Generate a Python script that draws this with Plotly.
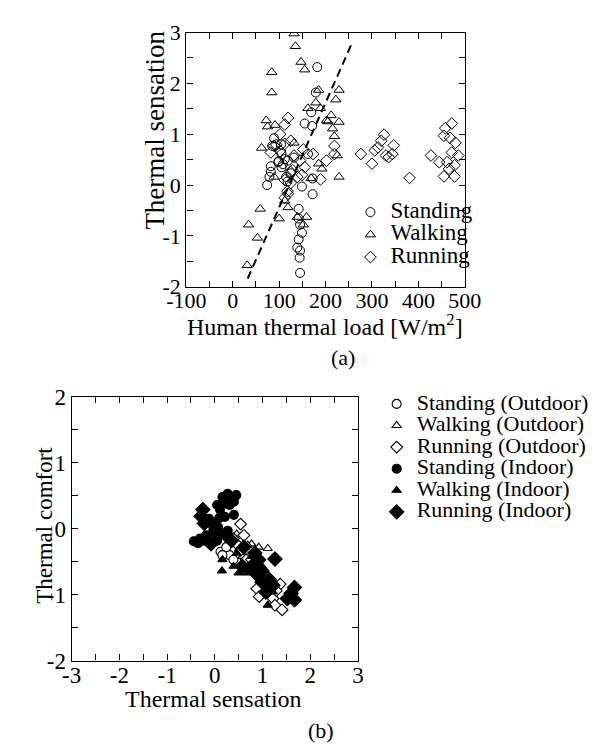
import plotly.graph_objects as go

# The page body has an 8 px margin, so the figure is sized to fit the window exactly
WIN_W, WIN_H = 606, 756
OFF = 8
W, H = WIN_W - 2 * OFF, WIN_H - 2 * OFF
FONT = "'Liberation Serif', 'Times New Roman', Times, serif"

# ---------------- data (a) ----------------
stand_x = [182, 179, 169, 171, 155, 89, 85, 104, 105, 112, 99, 82, 82, 79, 74, 105, 115, 125, 149, 172,
           162, 172, 142, 142, 145, 149, 142, 139, 145, 144, 145, 119, 132, 98, 108, 118]
stand_y = [2.32, 1.82, 1.43, 1.16, 1.21, 0.92, 0.77, 0.80, 0.61, 0.51, 0.47, 0.37, 0.26, 0.16, 0.0, 0.35, 0.16,
           0.23, -0.03, 0.13, 0.61, -0.18, -0.47, -0.66, -0.78, -0.94, -1.07, -1.23, -1.29, -1.43, -1.73, 0.48,
           0.54, 0.45, 0.41, 0.07]
walk_x = [132, 135, 147, 155, 84, 84, 185, 229, 222, 179, 162, 189, 72, 75, 91, 202, 212, 229, 215, 219,
          62, 132, 225, 185, 192, 229, 89, 112, 119, 59, 100, 139, 159, 152, 34, 53, 31, 169, 205]
walk_y = [2.98, 2.73, 2.42, 2.27, 2.22, 1.82, 1.87, 1.87, 1.68, 1.62, 1.51, 1.51, 1.27, 1.15, 1.18, 1.27,
          1.37, 1.24, 1.11, 0.96, 0.73, 0.83, 0.58, 0.42, 0.32, 0.16, 0.16, -0.31, -0.44, -0.47, -0.66, -0.63,
          -0.63, -0.78, -0.78, -1.04, -1.58, 0.13, 1.25]
run_x = [119, 112, 102, 89, 112, 102, 125, 152, 173, 132, 145, 155, 129, 139, 112, 125, 149, 119, 189, 202,
         219, 219, 82, 94, 124, 112, 118,
         276, 300, 313, 306, 326, 320, 347, 344, 330, 336, 381, 427, 445, 472, 458, 455, 468, 480, 472, 486,
         462, 478, 466, 455, 478]
run_y = [1.32, 1.19, 1.0, 0.77, 0.81, 0.67, 0.87, 0.70, 0.61, 0.58, 0.48, 0.35, 0.29, 0.16, 0.10, 0.04, 0.20,
         -0.17, 0.11, 0.48, 0.77, 0.61, 0.64, 0.79, 0.26, -0.25, -0.12,
         0.61, 0.42, 0.74, 0.68, 0.99, 0.87, 0.78, 0.61, 0.58, 0.55, 0.14, 0.58, 0.45, 1.21, 1.12, 0.97, 0.93,
         0.83, 0.64, 0.58, 0.45, 0.39, 0.32, 0.17, 0.17]
# regression line (a)
fit_slope = 0.0206
fit_intercept = -2.50
fit_x = [32, 259]

# tick labels
a_xticks = [-100, 0, 100, 200, 300, 400, 500]
a_yticks = [-2, -1, 0, 1, 2, 3]
b_xticks = [-3, -2, -1, 0, 1, 2, 3]
b_yticks = [-2, -1, 0, 1, 2]

# ---------------- data (b) ----------------
so_x = [0.12, 0.31, 0.39, 0.24, 0.16, 0.54]
so_y = [-0.35, -0.40, -0.47, -0.28, -0.40, -0.33]
wo_x = [1.11, 0.46, 0.77, 0.58, 0.69, 0.92]
wo_y = [-0.30, -0.08, -0.23, -0.42, -0.25, -0.28]
ro_x = [0.54, 0.61, 0.46, 0.54, 0.66, 0.88, 0.93, 1.22, 1.37, 1.26, 1.41, 1.29, 0.77, 0.39]
ro_y = [0.07, -0.10, -0.23, -0.33, -0.47, -0.91, -1.03, -1.06, -0.84, -1.16, -1.23, -0.94, -0.47, -0.15]
si_x = [0.45, 0.27, 0.16, 0.35, 0.20, 0.05, 0.31, 0.40, 0.11, 0.40, 0.21, 0.09, -0.12, -0.14, 0.01, 0.07,
        -0.03, -0.18, -0.31, -0.44, -0.35, -0.22, 0.16, 0.05, 0.27]
si_y = [0.51, 0.53, 0.48, 0.43, 0.38, 0.36, 0.36, 0.41, 0.29, 0.21, 0.18, 0.16, 0.15, 0.09, 0.07, 0.02,
        -0.02, -0.10, -0.15, -0.19, -0.22, -0.18, -0.08, -0.18, -0.03]
wi_x = [0.15, 0.16, 0.39, 0.50, 0.69, 1.11, 0.77, 0.99, 0.46, 1.22]
wi_y = [-0.64, -0.47, -0.57, -0.67, -0.67, -1.16, -0.42, -0.57, -0.37, -0.96]
ri_x = [-0.25, -0.29, -0.22, -0.08, 0.01, 0.24, 0.35, 0.61, 0.84, 0.92, 1.26, 0.77, 0.99, 1.14, 1.22, 1.07,
        1.67, 1.60, 1.67, 1.52, 0.58, 0.88, 0.99]
ri_y = [0.29, 0.19, 0.08, -0.23, -0.06, -0.10, -0.18, -0.28, -0.37, -0.47, -0.46, -0.57, -0.64, -0.77, -0.86,
        -0.96, -0.89, -0.98, -1.08, -1.06, -0.57, -0.69, -0.81]

fig = go.Figure()

def lab(t, size):
    return "<span style='font-size:%dpx'>%s</span>" % (size, t)

# (a) traces
for nm, xs, ys, sym, sz in [("Standing", stand_x, stand_y, "circle-open", 9),
                            ("Walking", walk_x, walk_y, "triangle-up-open", 9),
                            ("Running", run_x, run_y, "diamond-open", 9)]:
    fig.add_trace(go.Scatter(x=xs, y=ys, mode="markers", name=lab(nm, 23), xaxis="x", yaxis="y",
                             legend="legend",
                             marker=dict(symbol=sym, size=sz, color="black", line=dict(width=1, color="black"))))

fig.add_trace(go.Scatter(x=fit_x, y=[fit_slope * v + fit_intercept for v in fit_x], mode="lines",
                         xaxis="x", yaxis="y", showlegend=False,
                         line=dict(color="black", width=2, dash="8px,5px")))

# (b) traces
for nm, xs, ys, sym, sz, fill in [
        ("Standing (Outdoor)", so_x, so_y, "circle", 9, "white"),
        ("Walking (Outdoor)", wo_x, wo_y, "triangle-up", 8, "white"),
        ("Running (Outdoor)", ro_x, ro_y, "diamond", 9, "white"),
        ("Standing (Indoor)", si_x, si_y, "circle", 9, "black"),
        ("Walking (Indoor)", wi_x, wi_y, "triangle-up", 8, "black"),
        ("Running (Indoor)", ri_x, ri_y, "diamond", 11, "black")]:
    fig.add_trace(go.Scatter(x=xs, y=ys, mode="markers", name=lab(nm, 22), xaxis="x2", yaxis="y2",
                             legend="legend2",
                             marker=dict(symbol=sym, size=sz, color=fill, line=dict(width=1.1, color="black"))))

def ax(domain, rng, ticks, mdtick, fsize, anchor, standoff):
    return dict(domain=domain, range=rng, tickmode="array", tickvals=ticks,
                ticktext=[str(t) for t in ticks], anchor=anchor,
                showline=True, linecolor="black", linewidth=1.3, mirror="ticks",
                ticks="inside", ticklen=6, tickwidth=1.2, tickcolor="black",
                minor=dict(ticks="inside", dtick=mdtick, tick0=0, ticklen=6, tickwidth=1.2, tickcolor="black"),
                showgrid=False, zeroline=False, ticklabelstandoff=standoff,
                tickfont=dict(family=FONT, size=fsize, color="black"))

# window pixel -> paper fraction
def px(x):
    return (x - OFF) / W

def py(y):
    return 1 - (y - OFF) / H

fig.update_layout(
    width=W, height=H, margin=dict(l=0, r=0, t=0, b=0),
    paper_bgcolor="white", plot_bgcolor="white",
    font=dict(family=FONT, color="black"),
    xaxis=ax([px(177), px(474)], [-100, 500], a_xticks, 50, 22, "y", -6),
    yaxis=ax([py(284), py(21)], [-2, 3], a_yticks, 0.5, 22, "x", 0),
    xaxis2=ax([px(54.6), px(360)], [-3, 3], b_xticks, 0.5, 23, "y2", -6),
    yaxis2=ax([py(671), py(398)], [-2, 2], b_yticks, 0.5, 23, "x2", 0),
    legend=dict(x=px(352), y=py(190), xanchor="left", yanchor="top", bgcolor="rgba(0,0,0,0)",
                font=dict(family=FONT, size=15, color="black"), tracegroupgap=0, itemwidth=30),
    legend2=dict(x=px(380), y=py(389), xanchor="left", yanchor="top", bgcolor="rgba(0,0,0,0)",
                 font=dict(family=FONT, size=14.3, color="black"), tracegroupgap=0, itemwidth=30),
    annotations=[
        dict(text="Human thermal load [W/m<sup>2</sup>]", x=px(325), y=py(324), xref="paper", yref="paper",
             showarrow=False, xanchor="center", yanchor="middle", font=dict(size=24)),
        dict(text="Thermal sensation", x=px(144), y=py(122), xref="paper", yref="paper", textangle=-90,
             showarrow=False, xanchor="center", yanchor="middle", font=dict(size=27)),
        dict(text="(a)", x=px(344), y=py(357), xref="paper", yref="paper",
             showarrow=False, xanchor="center", yanchor="middle", font=dict(size=22)),
        dict(text="Thermal sensation", x=px(206), y=py(711), xref="paper", yref="paper",
             showarrow=False, xanchor="center", yanchor="middle", font=dict(size=24)),
        dict(text="Thermal comfort", x=px(25.5), y=py(531), xref="paper", yref="paper", textangle=-90,
             showarrow=False, xanchor="center", yanchor="middle", font=dict(size=23)),
        dict(text="(b)", x=px(321), y=py(743), xref="paper", yref="paper",
             showarrow=False, xanchor="center", yanchor="middle", font=dict(size=22)),
    ],
)

fig.write_html("out.html")
